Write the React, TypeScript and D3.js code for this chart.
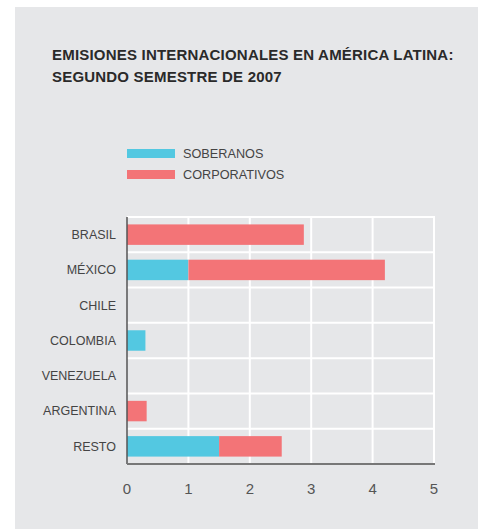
import React from 'react';
import * as d3 from 'd3';

// values in billions
const categories = ['BRASIL', 'MÉXICO', 'CHILE', 'COLOMBIA', 'VENEZUELA', 'ARGENTINA', 'RESTO'];
const soberanos = [0, 1.0, 0, 0.3, 0, 0, 1.5];
const corporativos = [2.88, 3.2, 0, 0, 0, 0.32, 1.02];
const xTicks = [0, 1, 2, 3, 4, 5];
const seriesNames = ['SOBERANOS', 'CORPORATIVOS'];
const colors = ['#53c8e1', '#f37477'];

const W = 478;
const H = 529;
const margin = { top: 217, left: 127, right: 44, bottom: 65 };

const App = () => {
  const x = d3.scaleLinear()
    .domain([0, 5])
    .range([margin.left, W - margin.right]);

  const y = d3.scaleBand()
    .domain(categories)
    .range([margin.top, H - margin.bottom])
    .paddingInner(0.42)
    .paddingOuter(0.21);

  // band edges for the horizontal grid lines
  const step = y.step();
  const rows = d3.range(categories.length + 1).map(i => margin.top + i * step);

  const rowsData = categories.map((c, i) => ({ c, s: soberanos[i], k: corporativos[i] }));
  const font = 'Liberation Sans, Arial, sans-serif';

  return (
    <svg width={W} height={H} style={{ position: 'absolute', left: 0, top: 0 }} fontFamily={font}>
      <rect x={15} y={7} width={W - 15} height={H - 7} fill="#e6e7e9" />

      <text x={52} y={60} fontSize={15} fontWeight="bold" letterSpacing={0.2} fill="#2a2a2a">
        EMISIONES INTERNACIONALES EN AMÉRICA LATINA:
      </text>
      <text x={52} y={82} fontSize={15} fontWeight="bold" letterSpacing={0.2} fill="#2a2a2a">
        SEGUNDO SEMESTRE DE 2007
      </text>

      {/* legend */}
      {seriesNames.map((n, i) => (
        <g key={n} transform={`translate(127, ${149 + i * 21})`}>
          <rect width={48} height={9} fill={colors[i]} />
          <text x={56} y={9} fontSize={12.7} fill="#444">{n}</text>
        </g>
      ))}

      {/* grid */}
      {xTicks.slice(1).map(t => (
        <line key={t} x1={x(t)} x2={x(t)} y1={margin.top} y2={H - margin.bottom} stroke="#fff" strokeWidth={2} />
      ))}
      {rows.slice(0, -1).map((r, i) => (
        <line key={i} x1={margin.left} x2={x(5) + 1} y1={r} y2={r} stroke="#fff" strokeWidth={2} />
      ))}

      {/* bars */}
      {rowsData.map(d => (
        <g key={d.c}>
          {d.s > 0 && (
            <rect x={x(0)} y={y(d.c)} width={x(d.s) - x(0)} height={y.bandwidth()} fill={colors[0]} />
          )}
          {d.k > 0 && (
            <rect x={x(d.s)} y={y(d.c)} width={x(d.s + d.k) - x(d.s)} height={y.bandwidth()} fill={colors[1]} />
          )}
          <text x={116} y={y(d.c)! + y.bandwidth() / 2} dy="0.35em" textAnchor="end" fontSize={12.5} fill="#444">
            {d.c}
          </text>
        </g>
      ))}

      {/* axes */}
      <line x1={margin.left} x2={margin.left} y1={margin.top} y2={H - margin.bottom} stroke="#555" strokeWidth={1.5} />
      <line x1={margin.left} x2={x(5) + 1} y1={H - margin.bottom} y2={H - margin.bottom} stroke="#777" strokeWidth={2} />

      {xTicks.map(t => (
        <text key={t} x={x(t)} y={494} textAnchor="middle" fontSize={15} fill="#555">{t}</text>
      ))}
    </svg>
  );
};

export default App;
